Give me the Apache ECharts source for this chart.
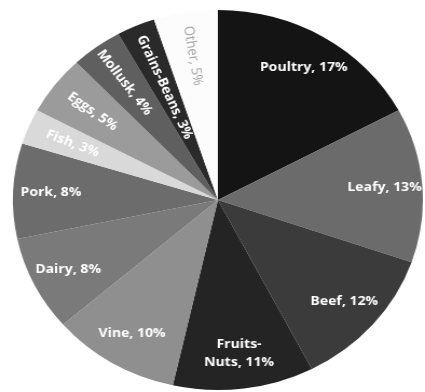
<!DOCTYPE html>
<html>
<head>
<meta charset="utf-8">
<script src="https://cdn.jsdelivr.net/npm/echarts@6/dist/echarts.min.js"></script>
<style>
html,body{margin:0;padding:0;background:#fff;overflow:hidden;}
#wrap{width:425px;height:392px;overflow:hidden;position:relative;}
#c{width:394px;height:392px;transform:scaleX(1.0787);transform-origin:0 0;}
</style>
</head>
<body>
<div id="wrap"><div id="c"></div></div>
<script>
var categories = ['Poultry','Leafy','Beef','Fruits-\nNuts','Vine','Dairy','Pork','Fish','Eggs','Mollusk','Grains-Beans','Other'];
var values = [17,13,12,11,10,8,8,3,5,4,3,5];
var colors = ['#141414','#6b6b6b','#3b3b3b','#242424','#8f8f8f','#7a7a7a','#6c6c6c','#d9d9d9','#9b9b9b','#5f5f5f','#2a2a2a','#fcfcfc'];
var radialCats = ['Fish','Eggs','Mollusk','Other'];
var deepCats = ['Grains-Beans'];

var chart = echarts.init(document.getElementById('c'), null, {renderer:'canvas'});

var CX = 202, CY = 200, R = 190;

var pieData = categories.map(function(c,i){
  return {name:c, value:values[i], itemStyle:{color:colors[i]}};
});

function labelSeries(inner, pick, rotate){
  return {
    type:'pie',
    center:[CX,CY],
    radius:[inner,R],
    startAngle:90,
    clockwise:true,
    silent:true,
    itemStyle:{color:'rgba(0,0,0,0)'},
    label:{
      show:true,
      position:'inside',
      color:'#ffffff',
      fontFamily:'Open Sans',
      fontWeight:'bold',
      fontSize:13,
      lineHeight:18,
      formatter:function(p){ return p.name + ', ' + p.value + '%'; }
    },
    labelLine:{show:false},
    data:categories.map(function(c,i){
      var lab = {show: pick(c)};
      if (rotate) lab.rotate = 'radial';
      if (c === 'Other') { lab.color = '#a5a5a5'; lab.fontWeight = 'normal'; }
      return {name:c, value:values[i], label:lab};
    })
  };
}

chart.setOption({
  animation:false,
  backgroundColor:'#fff',
  series:[
    {
      type:'pie',
      center:[CX,CY],
      radius:[0,R],
      startAngle:90,
      clockwise:true,
      silent:true,
      label:{show:false},
      labelLine:{show:false},
      data:pieData
    },
    labelSeries(114, function(c){ return radialCats.indexOf(c) < 0 && deepCats.indexOf(c) < 0; }, false),
    labelSeries(96, function(c){ return radialCats.indexOf(c) >= 0; }, true),
    labelSeries(50, function(c){ return deepCats.indexOf(c) >= 0; }, true)
  ]
});
</script>
</body>
</html>
